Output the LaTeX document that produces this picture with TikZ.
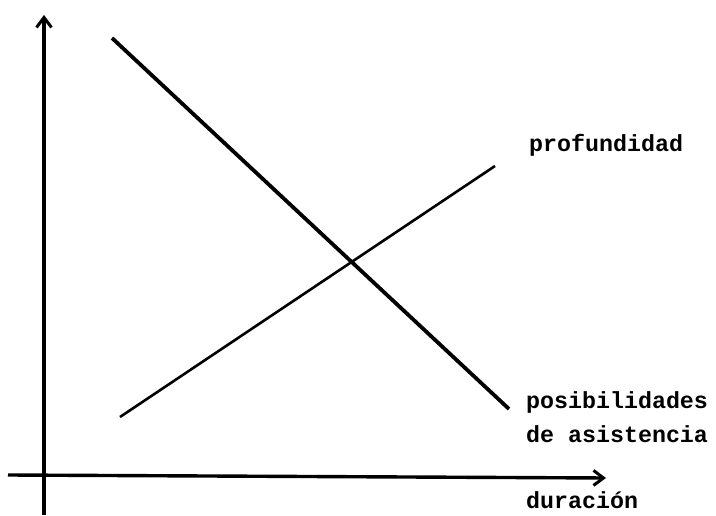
\documentclass[tikz,border=0pt]{standalone}
\usepackage{fontspec}
\setmonofont{Liberation Mono}
\usetikzlibrary{arrows.meta}
\tikzset{
  axis/.style={line width=3.4pt, -{Straight Barb[length=10pt,width=15pt,line width=3pt]}},
  curve/.style={line width=2.6pt},
  lbl/.style={anchor=base west, inner sep=0pt, font=\ttfamily\bfseries\fontsize{23.3}{34}\selectfont}
}
\begin{document}
\begin{tikzpicture}[x=1pt,y=-1pt]
\useasboundingbox (0,0) rectangle (716,516);
\coordinate (yb) at (44,515);
\coordinate (yt) at (44,15);
\coordinate (xl) at (8,475);
\coordinate (xr) at (606,478);
\coordinate (a1) at (112,38);
\coordinate (a2) at (509,409);
\coordinate (b1) at (120,417);
\coordinate (b2) at (495,166);
\draw[axis] (yb) -- (yt);
\draw[axis] (xl) -- (xr);
\draw[curve, line width=3.8pt] (a1) -- (a2);
\draw[curve] (b1) -- (b2);
\node[lbl] (prof) at (529,152) {profundidad};
\node[lbl] (pos) at (526,408) {posibilidades};
\node[lbl] (asis) at (526,442) {de asistencia};
\node[lbl] (dur) at (526,508) {duración};
\end{tikzpicture}
\end{document}
